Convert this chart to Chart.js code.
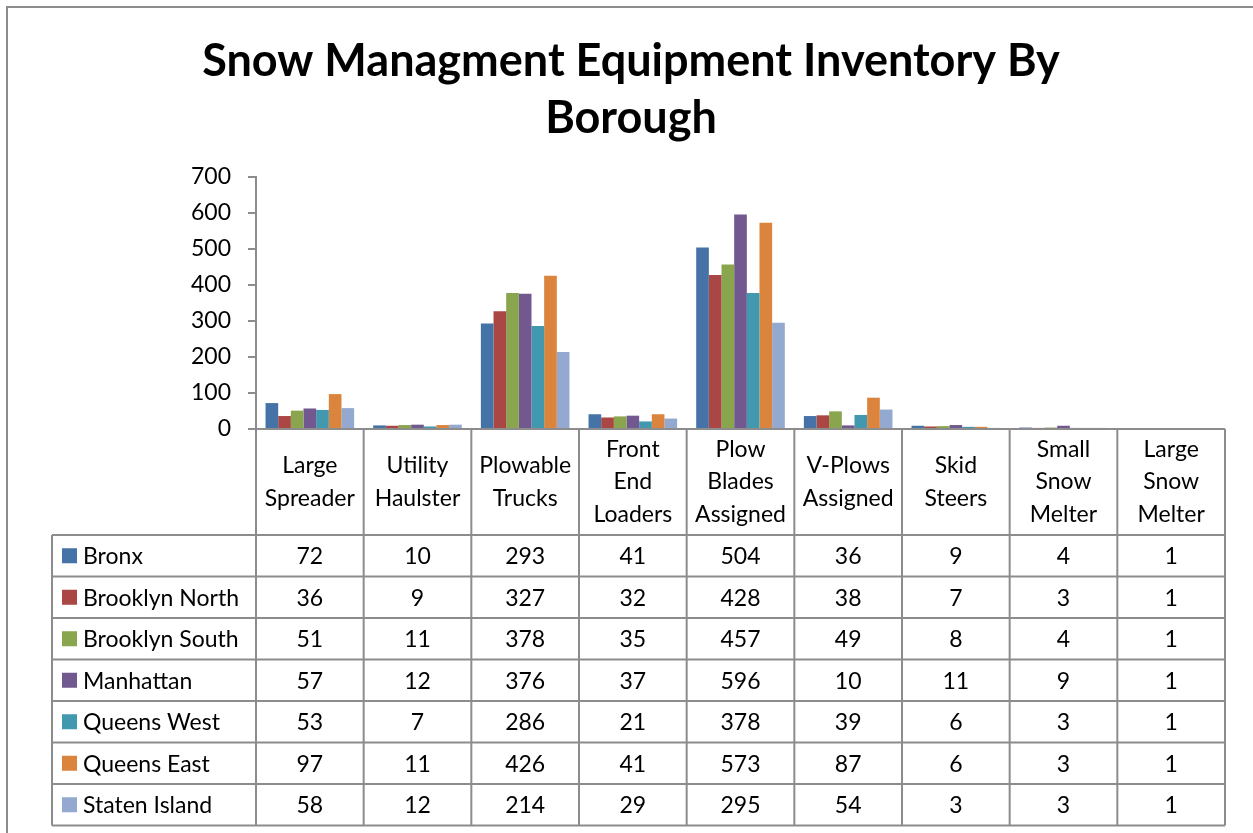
<!DOCTYPE html>
<html>
<head>
<meta charset="utf-8">
<script src="https://cdn.jsdelivr.net/npm/chart.js@4.4.0/dist/chart.umd.min.js"></script>
<style>
  html, body { margin: 0; padding: 0; background: #fff; }
  #wrap { width: 1253px; height: 833px; position: relative; }
</style>
</head>
<body>
<div id="wrap"><canvas id="chart" width="1253" height="833"></canvas></div>
<script>
const FONT = 'Lato, "Noto Sans", sans-serif';

const categories = [
    ['Large', 'Spreader'],
    ['Utility', 'Haulster'],
    ['Plowable', 'Trucks'],
    ['Front', 'End', 'Loaders'],
    ['Plow', 'Blades', 'Assigned'],
    ['V-Plows', 'Assigned'],
    ['Skid', 'Steers'],
    ['Small', 'Snow', 'Melter'],
    ['Large', 'Snow', 'Melter']
];

const boroughs = ['Bronx', 'Brooklyn North', 'Brooklyn South', 'Manhattan', 'Queens West', 'Queens East', 'Staten Island'];
const colors = ['#4572A7', '#AA4643', '#89A54E', '#71588F', '#4198AF', '#DB843D', '#93A9CF'];

const bronx = [72, 10, 293, 41, 504, 36, 9, 4, 1];
const brooklynNorth = [36, 9, 327, 32, 428, 38, 7, 3, 1];
const brooklynSouth = [51, 11, 378, 35, 457, 49, 8, 4, 1];
const manhattan = [57, 12, 376, 37, 596, 10, 11, 9, 1];
const queensWest = [53, 7, 286, 21, 378, 39, 6, 3, 1];
const queensEast = [97, 11, 426, 41, 573, 87, 6, 3, 1];
const statenIsland = [58, 12, 214, 29, 295, 54, 3, 3, 1];

const seriesValues = [bronx, brooklynNorth, brooklynSouth, manhattan, queensWest, queensEast, statenIsland];
const yTicks = [0, 100, 200, 300, 400, 500, 600, 700];

const LINE = '#8c8c8c';
const TEXT_SIZE = 23;

// frame around the chart (only left and top edges are in view)
const framePlugin = {
    id: 'frame',
    beforeDraw(chart) {
        const ctx = chart.ctx;
        ctx.save();
        ctx.strokeStyle = LINE;
        ctx.lineWidth = 2;
        ctx.beginPath();
        ctx.moveTo(7, chart.height);
        ctx.lineTo(7, 7);
        ctx.lineTo(chart.width, 7);
        ctx.stroke();
        ctx.restore();
    }
};

// data table under the plot, columns follow the x scale
const tablePlugin = {
    id: 'dataTable',
    afterDraw(chart) {
        const ctx = chart.ctx;
        const x = chart.scales.x;
        const n = chart.data.labels.length;
        const cw = x.getPixelForValue(1) - x.getPixelForValue(0);
        const left0 = x.getPixelForValue(0) - cw / 2;
        const right = left0 + cw * n;
        const top = chart.chartArea.bottom;
        const headerH = 106;
        const rowH = 41.5;
        const legendLeft = 52;
        const rows = chart.data.datasets.length;
        const bottom = top + headerH + rows * rowH;

        ctx.save();
        ctx.strokeStyle = LINE;
        ctx.lineWidth = 2;
        ctx.beginPath();
        ctx.moveTo(left0, top);
        ctx.lineTo(right, top);
        for (let r = 0; r <= rows; r++) {
            const y = top + headerH + r * rowH;
            ctx.moveTo(legendLeft, y);
            ctx.lineTo(right, y);
        }
        ctx.moveTo(legendLeft, top + headerH);
        ctx.lineTo(legendLeft, bottom);
        for (let c = 0; c <= n; c++) {
            const xx = left0 + c * cw;
            ctx.moveTo(xx, top);
            ctx.lineTo(xx, bottom);
        }
        ctx.stroke();

        ctx.fillStyle = '#000';
        ctx.font = TEXT_SIZE + 'px ' + FONT;
        ctx.textAlign = 'center';
        ctx.textBaseline = 'middle';

        chart.data.labels.forEach((lines, i) => {
            const cx = left0 + (i + 0.5) * cw;
            const cy = top + headerH / 2;
            lines.forEach((t, k) => {
                ctx.fillText(t, cx, cy + (k - (lines.length - 1) / 2) * 32.5);
            });
        });

        chart.data.datasets.forEach((ds, r) => {
            const cy = top + headerH + r * rowH + rowH / 2;
            ctx.fillStyle = ds.backgroundColor;
            ctx.fillRect(62, cy - 7.5, 15, 15);
            ctx.fillStyle = '#000';
            ctx.textAlign = 'left';
            ctx.fillText(ds.label, 83, cy + 1);
            ctx.textAlign = 'center';
            ds.data.forEach((v, i) => {
                ctx.fillText(String(v), left0 + (i + 0.5) * cw, cy + 1);
            });
        });
        ctx.restore();
    }
};

new Chart(document.getElementById('chart'), {
    type: 'bar',
    data: {
        labels: categories,
        datasets: boroughs.map((name, i) => ({
            label: name,
            data: seriesValues[i],
            backgroundColor: colors[i],
            borderWidth: 0,
            categoryPercentage: 0.823,
            barPercentage: 1.0
        }))
    },
    options: {
        responsive: false,
        animation: false,
        layout: {
            padding: { left: 37, right: 28, top: 0, bottom: 404 }
        },
        plugins: {
            legend: { display: false },
            tooltip: { enabled: false },
            title: {
                display: true,
                text: ['Snow Managment Equipment Inventory By', 'Borough'],
                color: '#000',
                font: { family: FONT, size: 45, weight: 'bold', lineHeight: 1.267 },
                padding: { top: 33, bottom: 30 }
            }
        },
        scales: {
            x: {
                display: false
            },
            y: {
                min: 0,
                max: 700,
                afterBuildTicks(scale) {
                    scale.ticks = yTicks.map(v => ({ value: v }));
                },
                afterFit(scale) {
                    scale.width = 219;
                },
                grid: {
                    drawOnChartArea: false,
                    drawTicks: true,
                    tickLength: 8,
                    color: LINE,
                    lineWidth: 2
                },
                border: { display: true, color: LINE, width: 2 },
                ticks: {
                    color: '#000',
                    padding: 17,
                    font: { family: FONT, size: TEXT_SIZE }
                }
            }
        }
    },
    plugins: [framePlugin, tablePlugin]
});
</script>
</body>
</html>
